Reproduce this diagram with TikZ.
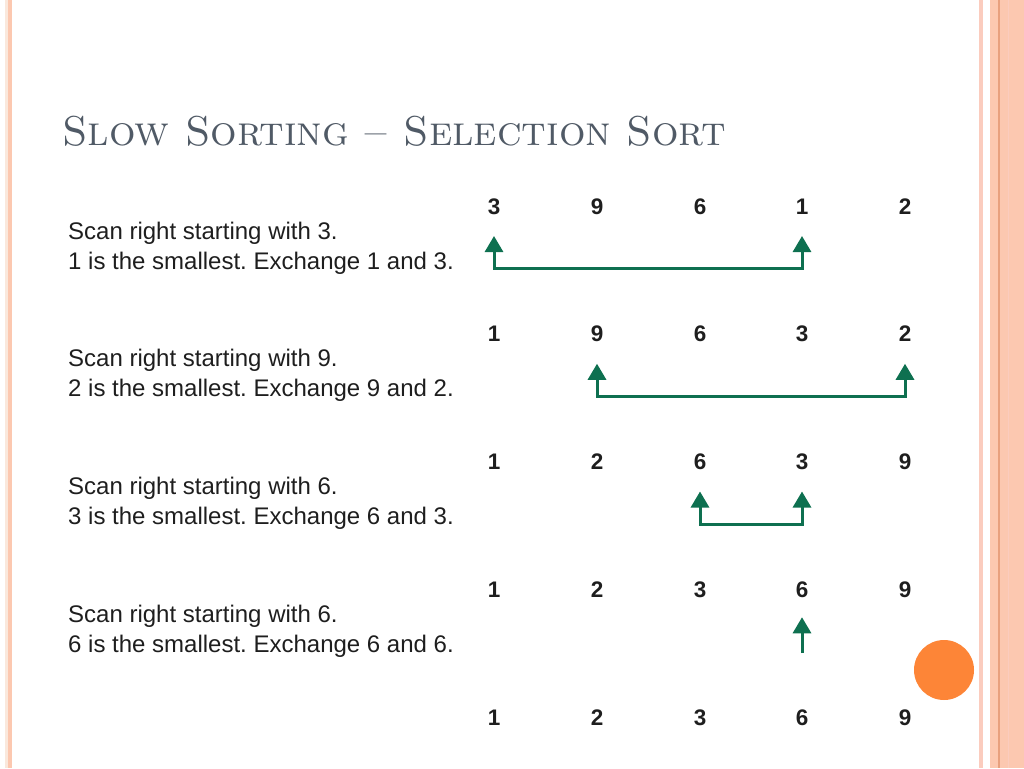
\documentclass[tikz,border=0pt]{standalone}
\usepackage{fontspec}
\newfontfamily\bodyfont{Liberation Sans}
\usetikzlibrary{arrows.meta}
\frenchspacing
\definecolor{titlegray}{RGB}{80,90,102}
\definecolor{arrowgreen}{RGB}{14,112,80}
\definecolor{stripelight}{RGB}{251,204,190}
\definecolor{salmon}{RGB}{252,200,176}
\definecolor{salmondark}{RGB}{232,160,126}
\definecolor{cream}{RGB}{250,232,220}
\definecolor{dotorange}{RGB}{253,133,55}
\definecolor{txt}{RGB}{30,30,30}
\tikzset{
  num/.style={font=\bodyfont\fontsize{22.5}{26}\selectfont\bfseries, text=txt, anchor=base, inner sep=0pt},
  desc/.style={font=\bodyfont\fontsize{24}{28}\selectfont, text=txt, anchor=base west, inner sep=0pt},
  swap/.style={draw=arrowgreen, line width=3pt, {Triangle[width=18pt,length=16pt]}-{Triangle[width=18pt,length=16pt]}},
  single/.style={draw=arrowgreen, line width=3pt, -{Triangle[width=18pt,length=16pt]}},
}
\begin{document}
\frenchspacing
\begin{tikzpicture}[x=1pt,y=-1pt]
\useasboundingbox (0,0) rectangle (1024,768);
% decorative stripes
\fill[cream] (5,0) rectangle (8,768);
\fill[salmon] (8,0) rectangle (12,768);
\fill[stripelight] (979,0) rectangle (983,768);
\fill[salmon] (990,0) rectangle (1024,768);
\fill[salmondark] (998,0) rectangle (999.5,768);
\fill[stripelight] (1008,0) rectangle (1009,768);
% orange dot
\fill[dotorange] (944,670) circle (30);
% title
\node[anchor=base west, inner sep=0pt, text=titlegray, font=\fontsize{41.7}{48}\selectfont] (title) at (62,145) {\textsc{Slow Sorting -- Selection Sort}};
% rows of numbers
\foreach \vals [count=\r] in {{3,9,6,1,2},{1,9,6,3,2},{1,2,6,3,9},{1,2,3,6,9},{1,2,3,6,9}}{
  \pgfmathsetmacro{\yc}{206+127.75*(\r-1)}
  \foreach \v [count=\c] in \vals {
    \pgfmathsetmacro{\xc}{{494,597,700,802,905}[\c-1]}
    \node[num] (n\r\c) at (\xc,\yc+8) {\v};
  }
}
% descriptions
\node[desc] (d1a) at (68,239) {Scan right starting with 3.};
\node[desc] (d1b) at (68,269) {1 is the smallest. Exchange 1 and 3.};
\node[desc] (d2a) at (68,366.75) {Scan right starting with 9.};
\node[desc] (d2b) at (68,396.75) {2 is the smallest. Exchange 9 and 2.};
\node[desc] (d3a) at (68,494.5) {Scan right starting with 6.};
\node[desc] (d3b) at (68,524.5) {3 is the smallest. Exchange 6 and 3.};
\node[desc] (d4a) at (68,622.25) {Scan right starting with 6.};
\node[desc] (d4b) at (68,652.25) {6 is the smallest. Exchange 6 and 6.};
% arrow coordinates
\coordinate (t1l) at (494,236);   \coordinate (t1r) at (802,236);
\coordinate (b1l) at (494,268);   \coordinate (b1r) at (802,268);
\coordinate (t2l) at (597,363.75); \coordinate (t2r) at (905,363.75);
\coordinate (b2l) at (597,396.75); \coordinate (b2r) at (905,396.75);
\coordinate (t3l) at (700,491.5); \coordinate (t3r) at (802,491.5);
\coordinate (b3l) at (700,524.5); \coordinate (b3r) at (802,524.5);
\coordinate (t4) at (802,617.25); \coordinate (b4) at (802,653);
\draw[swap] (t1l) -- (b1l) -- (b1r) -- (t1r);
\draw[swap] (t2l) -- (b2l) -- (b2r) -- (t2r);
\draw[swap] (t3l) -- (b3l) -- (b3r) -- (t3r);
\draw[single] (b4) -- (t4);
\end{tikzpicture}
\end{document}
